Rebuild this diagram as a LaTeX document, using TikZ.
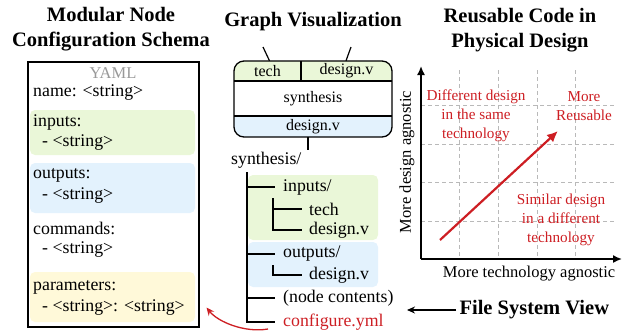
\documentclass[tikz,border=0pt]{standalone}
\usepackage{fontspec}
\setmainfont{Liberation Serif}
\usetikzlibrary{arrows.meta,positioning,calc}
\definecolor{cfggreen}{RGB}{234,247,216}
\definecolor{cfgblue}{RGB}{227,242,253}
\definecolor{cfgyellow}{RGB}{255,249,217}
\definecolor{cfgred}{RGB}{205,30,35}
\definecolor{gridgray}{RGB}{185,185,185}

\begin{document}
\begin{tikzpicture}[x=1pt,y=-1pt,
    title/.style={font=\fontsize{20.5}{25}\selectfont\bfseries,align=center},
    yamltext/.style={font=\fontsize{17.8}{20}\selectfont,anchor=west,inner sep=0pt},
    treetext/.style={font=\fontsize{17.8}{20}\selectfont,anchor=west,inner sep=4pt},
    celltext/.style={font=\fontsize{16}{19}\selectfont,inner sep=0pt},
    charttext/.style={font=\fontsize{15.2}{19}\selectfont,text=cfgred,align=center},
    axistext/.style={font=\fontsize{16.5}{19}\selectfont},
    treeline/.style={line width=1.2pt},
    band/.style={rounded corners=5pt}]
\useasboundingbox (0,0) rectangle (628,333);

% titles
\node[title] (schematitle) at (111,29) {Modular Node\\Configuration Schema};
\node[title] (graphtitle) at (313,22) {Graph Visualization};
\node[title] (reusetitle) at (520,30) {Reusable Code in\\Physical Design};

% yaml schema
\fill[band,cfggreen] (30,110) rectangle (195,155);
\fill[band,cfgblue] (30,163) rectangle (195,213);
\fill[band,cfgyellow] (30,272) rectangle (195,322);
\node[draw,line width=1.5pt,anchor=north west,minimum width=171pt,minimum height=265pt,inner sep=0pt] (yamlbox) at (27,61) {};
\node[font=\fontsize{16.5}{19}\selectfont,text=gray!80] (yamltag) at (113,73) {YAML};
\node[yamltext] (yname) at (33,93) {name: <string>};
\node[yamltext] (yinputs) at (33,122) {inputs:};
\node[yamltext] (yinitem) at (42,143) {- <string>};
\node[yamltext] (youtputs) at (33,175) {outputs:};
\node[yamltext] (youtitem) at (42,196) {- <string>};
\node[yamltext] (ycommands) at (33,228) {commands:};
\node[yamltext] (ycmditem) at (42,250) {- <string>};
\node[yamltext] (yparams) at (33,287) {parameters:};
\node[yamltext] (yparitem) at (42,308) {- <string>: <string>};

% graph node
\begin{scope}
  \clip[rounded corners=10pt] (234,61) rectangle (392,137);
  \fill[cfggreen] (234,61) rectangle (392,81);
  \fill[cfgblue] (234,116) rectangle (392,137);
\end{scope}
\draw[line width=1.3pt,rounded corners=10pt] (234,61) rectangle (392,137);
\draw[line width=1.1pt] (234,81) -- (392,81) (234,116) -- (392,116) (301,61) -- (301,81);
\node[celltext,minimum width=67pt,minimum height=20pt] (gtech) at (267.5,71) {tech};
\node[celltext,minimum width=91pt,minimum height=20pt] (gdesignin) at (346.5,71) {design.v};
\node[celltext,minimum width=158pt,minimum height=35pt] (gsynth) at (313,98.5) {synthesis};
\node[celltext,minimum width=158pt,minimum height=21pt] (gdesignout) at (313,126.5) {design.v};
\coordinate (techsrc) at (263,47);
\coordinate (designsrc) at (351,47);
\coordinate (synthout) at (308,150);
\draw[line width=1.2pt] (techsrc) -- ([xshift=2pt]gtech.north);
\draw[line width=1.2pt] (designsrc) -- ([xshift=-0.5pt]gdesignin.north);
\draw[line width=1.2pt] ([xshift=-5pt]gdesignout.south) -- (synthout);

% file tree
\fill[band,cfggreen] (248,175) rectangle (378,240);
\fill[band,cfgblue] (248,242) rectangle (378,287);
\node[treetext,inner sep=0pt] (troot) at (231,160) {synthesis/};
\node[treetext] (tinputs) at (279,187) {inputs/};
\node[treetext] (ttech) at (305,209) {tech};
\node[treetext] (tdesignin) at (305,230) {design.v};
\node[treetext] (toutputs) at (279,254) {outputs/};
\node[treetext] (tdesignout) at (305,275) {design.v};
\node[treetext] (tcontents) at (279,298) {(node contents)};
\node[treetext,text=cfgred] (tconfig) at (279,322) {configure.yml};
\coordinate (ttrunk) at (247,172);
\coordinate (tsubin) at (273,198);
\coordinate (tsubout) at (273,265);
\draw[treeline,shorten >=4pt] (ttrunk) |- (tconfig.west);
\foreach \n in {tinputs,toutputs,tcontents}
  \draw[treeline,shorten >=4pt] (ttrunk |- \n.west) -- (\n.west);
\draw[treeline,shorten >=3pt] (tsubin) |- (tdesignin.west);
\draw[treeline,shorten >=3pt] (tsubin |- ttech.west) -- (ttech.west);
\draw[treeline,shorten >=3pt] (tsubout) |- (tdesignout.west);

% link to schema
\draw[-{Stealth[length=8pt,width=7pt]},cfgred,line width=1.3pt]
  ([shift={(-11,7)}]tconfig.west) .. controls (245,333) and (218,322) .. ([shift={(7,-20)}]yamlbox.south east);

% reuse chart
\coordinate (origin) at (421,259);
\coordinate (ytip) at (421,66);
\coordinate (xtip) at (622,259);
\foreach \gx in {459,498,537,575}
  \draw[gridgray,line width=0.9pt,dash pattern=on 4pt off 3pt] (\gx,70) -- (\gx,259);
\foreach \gy in {105,144,182,221}
  \draw[gridgray,line width=0.9pt,dash pattern=on 4pt off 3pt] (421,\gy) -- (614,\gy);
\draw[-{Latex[length=9pt,width=8pt]},line width=1.6pt] (origin) -- (ytip);
\draw[-{Latex[length=9pt,width=8pt]},line width=1.6pt] (origin) -- (xtip);
\coordinate (reusestart) at (440,240);
\coordinate (reuseend) at (558,131);
\draw[-{Latex[length=11pt,width=10pt]},cfgred,line width=2.2pt] (reusestart) -- (reuseend);
\node[charttext] (sametech) at (476,116) {Different design\\in the same\\technology};
\node[charttext] (morereuse) at (584,106) {More\\Reusable};
\node[charttext] (difftech) at (561,220) {Similar design\\in a different\\technology};
\node[axistext,rotate=90] (ylabel) at (407,162) {More design agnostic};
\node[axistext] (xlabel) at (529,274) {More technology agnostic};

% file system view
\node[title,anchor=west] (fsview) at (456,310) {File System View};
\coordinate (fstip) at (407,310);
\draw[-{Stealth[length=8pt,width=7pt]},line width=1.4pt] (fsview.west) -- (fstip);
\end{tikzpicture}
\end{document}
